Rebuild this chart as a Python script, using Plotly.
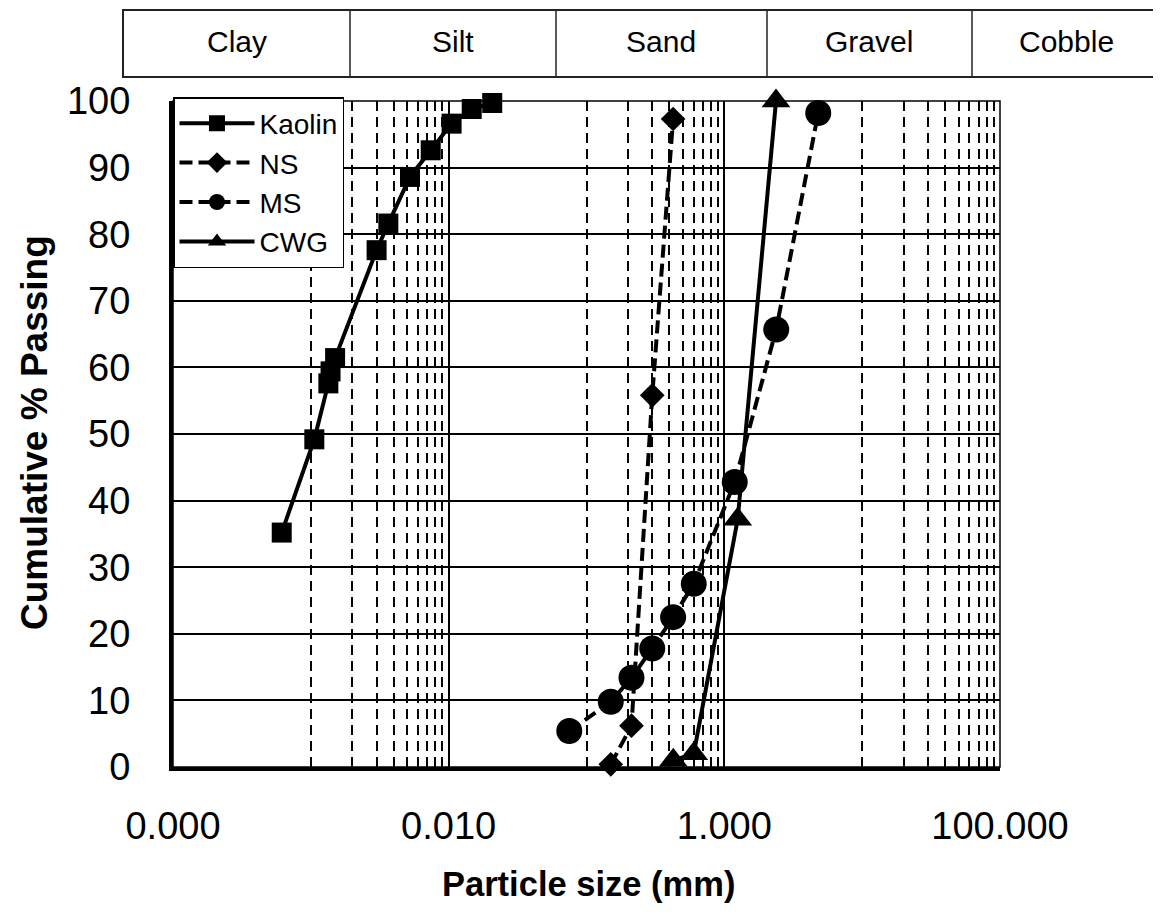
import plotly.graph_objects as go

# ---------------- data ----------------
kaolin_x = [0.000615, 0.00106, 0.00134, 0.00139, 0.00150, 0.00300, 0.00365,
            0.00524, 0.00741, 0.0105, 0.0147, 0.0207]
kaolin_y = [35.2, 49.2, 57.6, 59.4, 61.4, 77.6, 81.6, 88.6, 92.6, 96.6, 98.8, 99.7]

ns_x = [0.15, 0.212, 0.30, 0.425]
ns_y = [0.4, 6.2, 55.8, 97.3]

ms_x = [0.075, 0.15, 0.212, 0.30, 0.425, 0.60, 1.19, 2.38, 4.80]
ms_y = [5.4, 9.8, 13.4, 17.8, 22.5, 27.5, 42.8, 65.7, 98.2]

cwg_x = [0.426, 0.60, 1.25, 2.37]
cwg_y = [1.0, 2.0, 37.2, 100.0]

x_tickvals = [0.0001, 0.01, 1, 100]
x_ticktext = ["0.000", "0.010", "1.000", "100.000"]
y_tickvals = [0, 10, 20, 30, 40, 50, 60, 70, 80, 90, 100]

soil_classes = ["Clay", "Silt", "Sand", "Gravel", "Cobble"]

# ---------------- styling ----------------
FONT = "Liberation Sans, Arial, sans-serif"
BLACK = "#000000"
OFF = 8  # the page body has an 8px default margin

fig = go.Figure()

series = [
    ("Kaolin", kaolin_x, kaolin_y, "square", 20, "solid"),
    ("NS", ns_x, ns_y, "diamond", 19, "13px,6px"),
    ("MS", ms_x, ms_y, "circle", 26, "13px,6px"),
    ("CWG", cwg_x, cwg_y, "triangle-up", 25, "solid"),
]
for name, xs, ys, sym, size, dash in series:
    fig.add_trace(go.Scatter(
        x=xs, y=ys, name=name, mode="lines+markers",
        line=dict(color=BLACK, width=4, dash=dash),
        marker=dict(symbol=sym, size=size, color=BLACK),
        cliponaxis=False,
    ))

# minor vertical grid positions (odd decades in each two-decade band)
minor_vals = []
for d in [-3, -1, 1]:
    for k in range(1, 10):
        minor_vals.append(k * 10 ** d)

fig.update_xaxes(
    type="log", range=[-4, 2],
    tickmode="array", tickvals=x_tickvals, ticktext=x_ticktext,
    showgrid=True, gridcolor=BLACK, gridwidth=1.5,
    minor=dict(tickmode="array", tickvals=minor_vals, showgrid=True,
               gridcolor=BLACK, gridwidth=1.5, griddash="10px,6px", ticks=""),
    showline=True, linecolor=BLACK, linewidth=4,
    ticks="", ticklabelstandoff=22,
    tickfont=dict(family=FONT, size=38, color=BLACK),
    zeroline=False,
)
fig.update_yaxes(
    range=[0, 100], tickmode="array", tickvals=y_tickvals,
    showgrid=True, gridcolor=BLACK, gridwidth=1.5,
    showline=True, linecolor=BLACK, linewidth=4,
    ticks="", ticklabelstandoff=31,
    tickfont=dict(family=FONT, size=38, color=BLACK),
    zeroline=False,
)

L, T = 173 - OFF, 101 - OFF
PW, PH = 827, 666


def px2paper_x(px):
    return (px - OFF - L) / PW


def px2paper_y(py):
    return (T + PH - (py - OFF)) / PH


shapes = []
# thin frame on top / right of plotting area
shapes.append(dict(type="rect", xref="paper", yref="paper", x0=0, x1=1, y0=0, y1=1,
                   line=dict(color=BLACK, width=1.5), layer="below"))
# soil classification table above the plot
t_y0, t_y1 = px2paper_y(77), px2paper_y(10)
shapes.append(dict(type="rect", xref="paper", yref="paper", x0=px2paper_x(123), x1=1.25,
                   y0=t_y0, y1=t_y1, line=dict(color="#222222", width=2)))
for px in [350, 556, 767, 972]:
    xp = px2paper_x(px)
    shapes.append(dict(type="line", xref="paper", yref="paper", x0=xp, x1=xp,
                       y0=t_y0, y1=t_y1, line=dict(color="#222222", width=1.5)))

annotations = []
for label, px in zip(soil_classes, [237, 453, 661, 869, 1066]):
    annotations.append(dict(text=label, xref="paper", yref="paper",
                            x=px2paper_x(px), y=px2paper_y(42),
                            xanchor="center", yanchor="middle", showarrow=False,
                            font=dict(family=FONT, size=30, color=BLACK)))
annotations.append(dict(text="Particle size (mm)", xref="paper", yref="paper",
                        x=px2paper_x(588), y=px2paper_y(884),
                        xanchor="center", yanchor="middle", showarrow=False,
                        font=dict(family=FONT, size=34.5, color=BLACK, weight="bold")))
annotations.append(dict(text="Cumulative % Passing", xref="paper", yref="paper",
                        x=px2paper_x(34), y=px2paper_y(433), textangle=-90,
                        xanchor="center", yanchor="middle", showarrow=False,
                        font=dict(family=FONT, size=37, color=BLACK, weight="bold")))

fig.update_layout(
    width=1161 - OFF, height=916 - OFF,
    margin=dict(l=L, r=1161 - OFF - L - PW, t=T, b=916 - OFF - T - PH),
    paper_bgcolor="white", plot_bgcolor="white",
    shapes=shapes, annotations=annotations,
    showlegend=True,
    legend=dict(x=0, y=1.006, xanchor="left", yanchor="top",
                bgcolor="white", bordercolor=BLACK, borderwidth=1.5,
                font=dict(family=FONT, size=28, color=BLACK),
                itemwidth=75, tracegroupgap=0),
)

fig.write_html("out.html")
